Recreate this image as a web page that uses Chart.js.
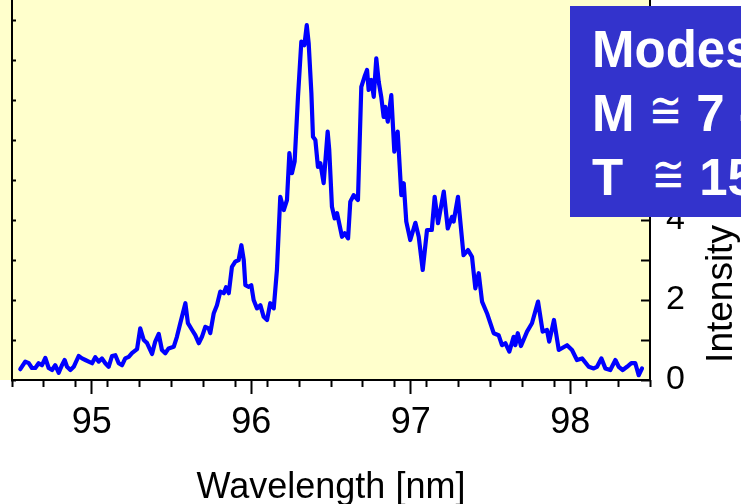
<!DOCTYPE html>
<html>
<head>
<meta charset="utf-8">
<script src="https://cdn.jsdelivr.net/npm/chart.js@4.4.1/dist/chart.umd.min.js"></script>
<style>
  html, body { margin: 0; padding: 0; background: #fff; overflow: hidden; }
  #wrap { position: relative; width: 741px; height: 504px; overflow: hidden; }
  #spectrum { position: absolute; left: 0; top: 0; }
  #modes {
    position: absolute; left: 570px; top: 6px; width: 220px; height: 211px;
    box-sizing: border-box; padding: 12px 0 0 22px;
    background: #3333cc; color: #fff; white-space: pre;
    font: bold 51px "Liberation Sans", Arial, sans-serif;
  }
  #modes div { height: 64px; line-height: 64px; }
  #modes .eq {
    display: inline-block; line-height: 0;
    font: normal 40px "DejaVu Sans", sans-serif;
    transform: scaleY(1.3); transform-origin: 50% 100%;
  }
</style>
</head>
<body>
<div id="wrap">
  <canvas id="spectrum" width="741" height="504"></canvas>
  <div id="modes"><div>Modes</div><div>M <span class="eq">≅</span> 7 -</div><div>T  <span class="eq">≅</span> 15</div></div>
</div>
<script>
"use strict"
const FONT = "'Liberation Sans', Arial, sans-serif";

// spectrum, wavelength in nm
const wavelength = [
    94.552, 94.583, 94.605, 94.625, 94.646, 94.667, 94.688, 94.709, 94.730, 94.751,
    94.771, 94.793, 94.813, 94.830, 94.845, 94.866, 94.887, 94.918, 94.939, 94.960,
    94.981, 95.002, 95.022, 95.044, 95.064, 95.085, 95.106, 95.127, 95.148, 95.169,
    95.190, 95.210, 95.232, 95.252, 95.284, 95.304, 95.326, 95.346, 95.378, 95.398,
    95.420, 95.440, 95.461, 95.482, 95.514, 95.534, 95.555, 95.587, 95.603, 95.629,
    95.649, 95.671, 95.691, 95.712, 95.733, 95.743, 95.765, 95.785, 95.806, 95.828,
    95.842, 95.859, 95.879, 95.900, 95.921, 95.938, 95.953, 95.963, 95.984, 96.000,
    96.015, 96.036, 96.057, 96.078, 96.099, 96.119, 96.141, 96.161, 96.182, 96.204,
    96.224, 96.239, 96.255, 96.272, 96.293, 96.314, 96.333, 96.348, 96.360, 96.377,
    96.387, 96.402, 96.418, 96.433, 96.454, 96.479, 96.489, 96.506, 96.523, 96.538,
    96.569, 96.586, 96.607, 96.621, 96.642, 96.669, 96.690, 96.710, 96.726, 96.736,
    96.753, 96.768, 96.784, 96.799, 96.815, 96.830, 96.840, 96.856, 96.878, 96.897,
    96.918, 96.941, 96.956, 96.972, 96.997, 97.029, 97.050, 97.075, 97.102, 97.132,
    97.150, 97.171, 97.207, 97.232, 97.259, 97.269, 97.296, 97.331, 97.359, 97.384,
    97.405, 97.426, 97.447, 97.478, 97.520, 97.551, 97.572, 97.593, 97.618, 97.645,
    97.656, 97.671, 97.691, 97.729, 97.760, 97.798, 97.827, 97.854, 97.868, 97.898,
    97.928, 97.980, 98.011, 98.042, 98.074, 98.116, 98.147, 98.168, 98.195, 98.220,
    98.251, 98.283, 98.304, 98.329, 98.356, 98.383, 98.408, 98.429, 98.450
];
const intensity = [
    0.27, 0.46, 0.42, 0.30, 0.30, 0.42, 0.37, 0.55, 0.30, 0.25,
    0.37, 0.18, 0.37, 0.50, 0.33, 0.25, 0.33, 0.60, 0.54, 0.50,
    0.46, 0.42, 0.57, 0.46, 0.54, 0.42, 0.33, 0.60, 0.62, 0.42,
    0.37, 0.54, 0.58, 0.67, 0.77, 1.29, 1.00, 0.93, 0.65, 0.96,
    1.15, 0.75, 0.67, 0.79, 0.83, 1.08, 1.42, 1.92, 1.42, 1.25,
    1.12, 0.92, 1.08, 1.33, 1.29, 1.17, 1.67, 1.87, 2.21, 2.17,
    2.32, 2.17, 2.83, 2.96, 3.00, 3.37, 3.00, 2.37, 2.33, 2.37,
    2.00, 1.79, 1.87, 1.58, 1.50, 1.92, 1.79, 2.75, 4.58, 4.25,
    4.50, 5.67, 5.17, 5.46, 7.08, 8.46, 8.37, 8.87, 8.42, 7.17,
    6.08, 6.00, 5.33, 5.42, 4.92, 6.21, 5.75, 4.33, 4.04, 4.17,
    3.58, 3.67, 3.54, 4.46, 4.62, 4.50, 7.33, 7.58, 7.75, 7.25,
    7.50, 7.08, 8.04, 7.46, 7.08, 6.58, 6.83, 6.46, 7.12, 5.71,
    6.21, 4.62, 4.92, 3.96, 3.50, 3.93, 3.58, 2.75, 3.75, 3.75,
    4.58, 3.92, 4.71, 3.79, 4.08, 3.96, 4.58, 3.12, 3.25, 3.08,
    2.29, 2.67, 1.96, 1.67, 1.17, 1.12, 0.87, 0.92, 0.71, 1.08,
    0.87, 1.17, 0.85, 1.21, 1.42, 1.96, 1.21, 1.25, 0.96, 1.50,
    0.75, 0.87, 0.75, 0.50, 0.54, 0.33, 0.29, 0.33, 0.54, 0.29,
    0.25, 0.50, 0.33, 0.25, 0.33, 0.42, 0.42, 0.12, 0.29
];

// axis ticks
const xTickValues = [95, 96, 97, 98];
const yTickLabels = ["0", "2", "4", "6", "8"];

// the scales get fixed sizes and no label overhang, so the plot fills the canvas edge to edge
function noOverhang(s) {
    s.paddingTop = 0;
    s.paddingBottom = 0;
    s.paddingLeft = 0;
    s.paddingRight = 0;
}

// yellow plot paper + rotated "Intensity" title
const paperPlugin = {
    id: "paper",
    beforeDraw(chart) {
        const { ctx, chartArea } = chart;
        ctx.save();
        ctx.fillStyle = "#ffffff";
        ctx.fillRect(0, 0, chart.width, chart.height);
        ctx.fillStyle = "#ffffcc";
        ctx.fillRect(0, 0, chartArea.right, chartArea.bottom);
        ctx.restore();
    },
    afterDraw(chart) {
        const { ctx, chartArea } = chart;
        ctx.save();
        ctx.translate(chartArea.right + 82, chartArea.bottom - 86);
        ctx.rotate(-Math.PI / 2);
        ctx.font = "37px " + FONT;
        ctx.fillStyle = "#000";
        ctx.textAlign = "center";
        ctx.textBaseline = "alphabetic";
        ctx.fillText("Intensity", 0, 0);
        ctx.restore();
    }
};

const ctx = document.getElementById("spectrum");

new Chart(ctx, {
    type: "line",
    data: {
        datasets: [{
            data: wavelength.map((w, i) => ({ x: w, y: intensity[i] })),
            borderColor: "#0000ff",
            borderWidth: 4.2,
            pointRadius: 0,
            tension: 0,
            borderJoinStyle: "round",
            borderCapStyle: "round"
        }]
    },
    options: {
        responsive: false,
        animation: false,
        devicePixelRatio: 1,
        layout: { padding: 0 },
        plugins: { legend: { display: false }, tooltip: { enabled: false } },
        scales: {
            x: {
                type: "linear", position: "bottom", weight: 1,
                min: 94.5, max: 98.5,
                afterBuildTicks: s => { s.ticks = xTickValues.map(v => ({ value: v })); },
                afterFit: s => { s.height = 124; noOverhang(s); },
                ticks: { color: "#000", font: { family: FONT, size: 36 }, padding: 7, maxRotation: 0, autoSkip: false },
                grid: { drawOnChartArea: false, tickLength: 14, tickWidth: 2, tickColor: "#000" },
                border: { color: "#000", width: 2 },
                title: {
                    display: true, text: "Wavelength [nm]", color: "#000",
                    font: { family: FONT, size: 36 }, padding: { top: 0, bottom: -6 }
                }
            },
            // short minor ticks every 0.2 nm
            xMinor: {
                type: "linear", position: "bottom", weight: 0,
                min: 94.5, max: 98.5,
                afterFit: s => { s.height = 0; noOverhang(s); },
                ticks: { display: false, stepSize: 0.2, includeBounds: false, autoSkip: false },
                grid: { drawOnChartArea: false, tickLength: 7, tickWidth: 2, tickColor: "#000" },
                border: { display: false }
            },
            y: {
                type: "linear", position: "right",
                min: 0, max: 9.5,
                afterFit: s => { s.width = 91; noOverhang(s); },
                ticks: {
                    stepSize: 1, includeBounds: false, autoSkip: false, padding: 25,
                    color: "#000", font: { family: FONT, size: 34 },
                    callback: v => yTickLabels.includes(String(v)) ? String(v) : ""
                },
                grid: { drawOnChartArea: false, tickLength: -9, tickWidth: 2, tickColor: "#000" },
                border: { color: "#000", width: 2 }
            },
            yLeft: {
                type: "linear", position: "left",
                min: 0, max: 9.5,
                afterFit: s => { s.width = 12; noOverhang(s); },
                ticks: { display: false, stepSize: 1, includeBounds: false, autoSkip: false },
                grid: { drawOnChartArea: false, tickLength: -4, tickWidth: 2, tickColor: "#000" },
                border: { color: "#000", width: 2 }
            }
        }
    },
    plugins: [paperPlugin]
});
</script>
</body>
</html>
